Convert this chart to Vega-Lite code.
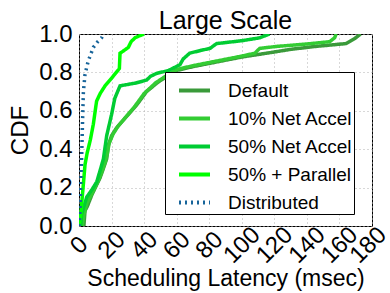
{
  "$schema": "https://vega.github.io/schema/vega-lite/v6.json",
  "width": 293,
  "height": 192,
  "autosize": {"type": "none"},
  "padding": {"left": 79, "top": 34, "right": 18, "bottom": 67},
  "background": "white",
  "title": {"text": "Large Scale", "fontSize": 25, "font": "Liberation Sans", "fontWeight": "normal", "color": "black", "offset": -12, "frame": "group"},
  "config": {
    "view": {"stroke": "black", "strokeWidth": 1},
    "axis": {"labelFont": "Liberation Sans", "titleFont": "Liberation Sans", "labelColor": "black", "titleColor": "black", "titleFontWeight": "normal", "domain": false, "ticks": false, "gridColor": "#b0b0b0", "gridDash": [1, 3], "gridWidth": 1, "gridOpacity": 1},
    "legend": {"labelFont": "Liberation Sans"}
  },
  "data": {"values": [
    {"s": "Default", "x": 3, "y": 0},
    {"s": "Default", "x": 3.7, "y": 0.08},
    {"s": "Default", "x": 5, "y": 0.1},
    {"s": "Default", "x": 7.8, "y": 0.16},
    {"s": "Default", "x": 10, "y": 0.2},
    {"s": "Default", "x": 12.9, "y": 0.25},
    {"s": "Default", "x": 15, "y": 0.3},
    {"s": "Default", "x": 17, "y": 0.35},
    {"s": "Default", "x": 18, "y": 0.42},
    {"s": "Default", "x": 20, "y": 0.47},
    {"s": "Default", "x": 23, "y": 0.51},
    {"s": "Default", "x": 26, "y": 0.54},
    {"s": "Default", "x": 30.3, "y": 0.58},
    {"s": "Default", "x": 35.4, "y": 0.63},
    {"s": "Default", "x": 41.5, "y": 0.7},
    {"s": "Default", "x": 48.7, "y": 0.75},
    {"s": "Default", "x": 56, "y": 0.79},
    {"s": "Default", "x": 60, "y": 0.81},
    {"s": "Default", "x": 70, "y": 0.83},
    {"s": "Default", "x": 85, "y": 0.855},
    {"s": "Default", "x": 100, "y": 0.88},
    {"s": "Default", "x": 119, "y": 0.905},
    {"s": "Default", "x": 130, "y": 0.92},
    {"s": "Default", "x": 145, "y": 0.935},
    {"s": "Default", "x": 164, "y": 0.95},
    {"s": "Default", "x": 170, "y": 0.98},
    {"s": "Default", "x": 173, "y": 1.0},
    {"s": "10% Net Accel", "x": 2, "y": 0},
    {"s": "10% Net Accel", "x": 3, "y": 0.06},
    {"s": "10% Net Accel", "x": 5, "y": 0.12},
    {"s": "10% Net Accel", "x": 8, "y": 0.17},
    {"s": "10% Net Accel", "x": 11, "y": 0.22},
    {"s": "10% Net Accel", "x": 13.5, "y": 0.27},
    {"s": "10% Net Accel", "x": 16, "y": 0.33},
    {"s": "10% Net Accel", "x": 17.5, "y": 0.38},
    {"s": "10% Net Accel", "x": 18.5, "y": 0.43},
    {"s": "10% Net Accel", "x": 21, "y": 0.48},
    {"s": "10% Net Accel", "x": 24, "y": 0.52},
    {"s": "10% Net Accel", "x": 29, "y": 0.57},
    {"s": "10% Net Accel", "x": 34, "y": 0.62},
    {"s": "10% Net Accel", "x": 40, "y": 0.69},
    {"s": "10% Net Accel", "x": 47, "y": 0.745},
    {"s": "10% Net Accel", "x": 54, "y": 0.785},
    {"s": "10% Net Accel", "x": 60, "y": 0.815},
    {"s": "10% Net Accel", "x": 70, "y": 0.835},
    {"s": "10% Net Accel", "x": 85, "y": 0.86},
    {"s": "10% Net Accel", "x": 100, "y": 0.885},
    {"s": "10% Net Accel", "x": 108, "y": 0.9},
    {"s": "10% Net Accel", "x": 111, "y": 0.925},
    {"s": "10% Net Accel", "x": 121, "y": 0.935},
    {"s": "10% Net Accel", "x": 140, "y": 0.948},
    {"s": "10% Net Accel", "x": 154, "y": 0.96},
    {"s": "10% Net Accel", "x": 157, "y": 0.98},
    {"s": "10% Net Accel", "x": 158, "y": 1.0},
    {"s": "50% Net Accel", "x": 1, "y": 0},
    {"s": "50% Net Accel", "x": 1.6, "y": 0.06},
    {"s": "50% Net Accel", "x": 4.7, "y": 0.15},
    {"s": "50% Net Accel", "x": 8, "y": 0.19},
    {"s": "50% Net Accel", "x": 10.9, "y": 0.23},
    {"s": "50% Net Accel", "x": 13, "y": 0.29},
    {"s": "50% Net Accel", "x": 15, "y": 0.35},
    {"s": "50% Net Accel", "x": 17, "y": 0.47},
    {"s": "50% Net Accel", "x": 20, "y": 0.58},
    {"s": "50% Net Accel", "x": 22, "y": 0.665},
    {"s": "50% Net Accel", "x": 25.2, "y": 0.73},
    {"s": "50% Net Accel", "x": 35, "y": 0.745},
    {"s": "50% Net Accel", "x": 41.5, "y": 0.76},
    {"s": "50% Net Accel", "x": 44, "y": 0.78},
    {"s": "50% Net Accel", "x": 47.7, "y": 0.795},
    {"s": "50% Net Accel", "x": 55, "y": 0.81},
    {"s": "50% Net Accel", "x": 62, "y": 0.84},
    {"s": "50% Net Accel", "x": 64, "y": 0.87},
    {"s": "50% Net Accel", "x": 68, "y": 0.9},
    {"s": "50% Net Accel", "x": 75, "y": 0.915},
    {"s": "50% Net Accel", "x": 80.5, "y": 0.925},
    {"s": "50% Net Accel", "x": 84.5, "y": 0.95},
    {"s": "50% Net Accel", "x": 100, "y": 0.965},
    {"s": "50% Net Accel", "x": 111, "y": 0.98},
    {"s": "50% Net Accel", "x": 117, "y": 1.0},
    {"s": "50% + Parallel", "x": 0, "y": 0},
    {"s": "50% + Parallel", "x": 1, "y": 0.05},
    {"s": "50% + Parallel", "x": 2, "y": 0.15},
    {"s": "50% + Parallel", "x": 3, "y": 0.25},
    {"s": "50% + Parallel", "x": 3.7, "y": 0.32},
    {"s": "50% + Parallel", "x": 5, "y": 0.38},
    {"s": "50% + Parallel", "x": 7, "y": 0.45},
    {"s": "50% + Parallel", "x": 8.8, "y": 0.53},
    {"s": "50% + Parallel", "x": 10.8, "y": 0.65},
    {"s": "50% + Parallel", "x": 13, "y": 0.69},
    {"s": "50% + Parallel", "x": 16, "y": 0.73},
    {"s": "50% + Parallel", "x": 19, "y": 0.76},
    {"s": "50% + Parallel", "x": 21, "y": 0.78},
    {"s": "50% + Parallel", "x": 24.8, "y": 0.82},
    {"s": "50% + Parallel", "x": 25.2, "y": 0.9},
    {"s": "50% + Parallel", "x": 27, "y": 0.91},
    {"s": "50% + Parallel", "x": 30.3, "y": 0.93},
    {"s": "50% + Parallel", "x": 32, "y": 0.96},
    {"s": "50% + Parallel", "x": 34.4, "y": 0.98},
    {"s": "50% + Parallel", "x": 37, "y": 0.99},
    {"s": "50% + Parallel", "x": 40, "y": 1.0},
    {"s": "Distributed", "x": 0, "y": 0},
    {"s": "Distributed", "x": 0.5, "y": 0.05},
    {"s": "Distributed", "x": 1, "y": 0.2},
    {"s": "Distributed", "x": 1.6, "y": 0.35},
    {"s": "Distributed", "x": 2.2, "y": 0.55},
    {"s": "Distributed", "x": 2.7, "y": 0.7},
    {"s": "Distributed", "x": 3.7, "y": 0.79},
    {"s": "Distributed", "x": 5.7, "y": 0.86},
    {"s": "Distributed", "x": 8.8, "y": 0.93},
    {"s": "Distributed", "x": 11.5, "y": 0.96},
    {"s": "Distributed", "x": 13.9, "y": 0.98},
    {"s": "Distributed", "x": 15, "y": 1.0}
  ]},
  "mark": {"type": "line", "strokeWidth": 3.5, "clip": true},
  "encoding": {
    "x": {"field": "x", "type": "quantitative", "scale": {"domain": [0, 180], "nice": false},
      "axis": {"values": [0, 20, 40, 60, 80, 100, 120, 140, 160, 180], "title": "Scheduling Latency (msec)", "titleFontSize": 23, "labelFontSize": 24, "labelAngle": -45, "labelAlign": "center", "labelBaseline": "middle", "labelPadding": 19, "labelOffset": {"condition": {"test": "datum.value == 180", "value": -4}, "value": 0}, "titlePadding": 0, "labelOverlap": false, "labelFlush": false, "labelBound": false}},
    "y": {"field": "y", "type": "quantitative", "scale": {"domain": [0, 1], "nice": false},
      "axis": {"values": [0, 0.2, 0.4, 0.6, 0.8, 1.0], "format": ".1f", "title": "CDF", "titleFontSize": 24, "labelFontSize": 24, "labelPadding": 7, "titlePadding": 6, "labelFlush": false, "labelOverlap": false}},
    "order": {"field": "y", "type": "quantitative"},
    "color": {"field": "s", "type": "nominal",
      "scale": {"domain": ["Default", "10% Net Accel", "50% Net Accel", "50% + Parallel", "Distributed"], "range": ["#3a9a3a", "#33cc33", "#00cc33", "#00ff00", "#17649a"]},
      "legend": {"title": null, "orient": "none", "legendX": 86, "legendY": 38, "strokeColor": "black", "fillColor": "white", "padding": 1, "cornerRadius": 0, "symbolType": "stroke", "symbolSize": 961, "symbolStrokeWidth": 4, "symbolOffset": 11, "labelFontSize": 19, "labelColor": "black", "labelOffset": 16, "rowPadding": -3.3, "labelLimit": 300}},
    "strokeDash": {"field": "s", "type": "nominal",
      "scale": {"domain": ["Default", "10% Net Accel", "50% Net Accel", "50% + Parallel", "Distributed"], "range": [[1, 0], [1, 0], [1, 0], [1, 0], [2, 4]]},
      "legend": null}
  }
}
